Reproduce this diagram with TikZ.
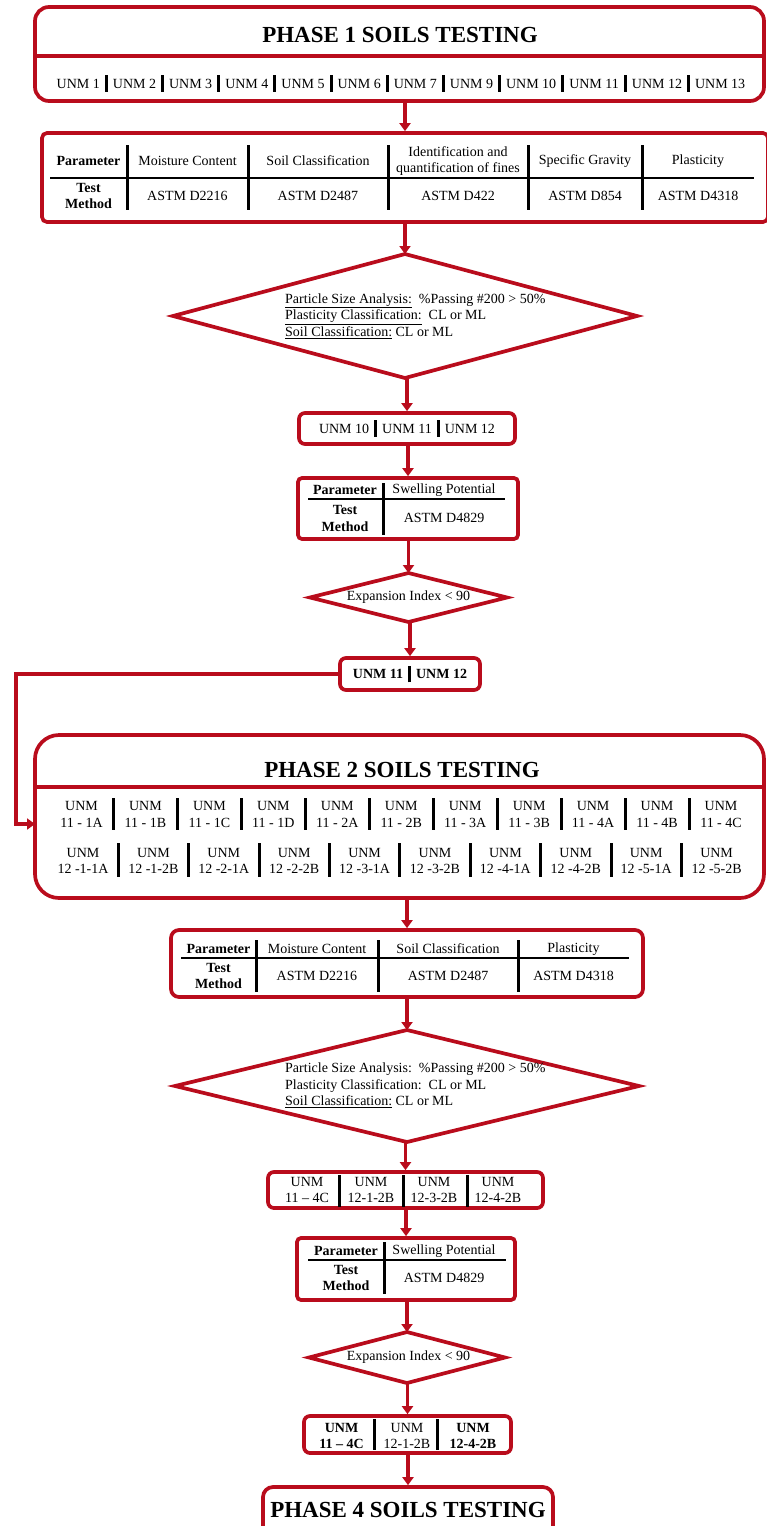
\documentclass[tikz,border=0pt]{standalone}
\usepackage{fontspec}
\setmainfont{Liberation Serif}
\usetikzlibrary{arrows.meta}
\definecolor{dred}{RGB}{185,12,28}
\newcommand\sepbar{\hspace{5pt}\rule[-3.5pt]{3pt}{16.5pt}\hspace{5pt}}
\begin{document}
\begin{tikzpicture}[x=1pt,y=-1pt,
  rbox/.style={draw=dred, line width=3.7pt, rounded corners=#1, inner sep=0pt, fill=white},
  rbox/.default=6pt,
  txt/.style={font=\fontsize{14}{16.5}\selectfont, align=center, inner sep=0pt},
  btxt/.style={font=\fontsize{14}{16.5}\selectfont\bfseries, align=center, inner sep=0pt},
  ttl/.style={font=\fontsize{23}{26}\selectfont\bfseries, inner sep=0pt},
  tline/.style={line width=2.7pt, black},
  vbar/.style={line width=3pt, black},
  dline/.style={draw=dred, line width=3.7pt, line join=miter},
  frame/.style={inner sep=0pt, outer sep=0pt},
  arr/.style={draw=dred, line width=3.8pt, line join=miter, -{Triangle[length=8pt,width=11pt]}}
]
\fill[white] (0,0) rectangle (766,1526);
\useasboundingbox (0,0) rectangle (766,1526);

% ---------- Phase 1 ----------
\node[rbox=14pt, minimum width=729pt, minimum height=94pt] (p1) at (399.5,54) {};
\coordinate (p1div) at (0,56);
\draw[dred, line width=3.7pt] (p1.west |- p1div) -- (p1.east |- p1div);
\node[ttl] (p1t) at (400,35) {PHASE 1 SOILS TESTING};
\node[txt] (p1r) at (401,83.5) {UNM 1\sepbar UNM 2\sepbar UNM 3\sepbar UNM 4\sepbar UNM 5\sepbar UNM 6\sepbar UNM 7\sepbar UNM 9\sepbar UNM 10\sepbar UNM 11\sepbar UNM 12\sepbar UNM 13};

% ---------- Table 1 ----------
\node[rbox=5pt, minimum width=726pt, minimum height=89pt] (t1) at (405,177.5) {};
\draw[tline] (50,178) -- (754,178);
\foreach \x in {127,248,388,528,642} \draw[vbar] (\x,145) -- (\x,210);
\node[btxt] (t1a) at (88.5,161) {Parameter};
\node[txt] (t1b) at (187.5,161) {Moisture Content};
\node[txt] (t1c) at (318,161) {Soil Classification};
\node[txt] (t1d) at (458,161) {Identification and\\quantification of fines};
\node[txt] (t1e) at (585,161) {Specific Gravity};
\node[txt] (t1f) at (698,161) {Plasticity};
\node[btxt] (t1g) at (88.5,196) {Test\\Method};
\node[txt] (t1h) at (187.5,196) {ASTM D2216};
\node[txt] (t1i) at (318,196) {ASTM D2487};
\node[txt] (t1j) at (458,196) {ASTM D422};
\node[txt] (t1k) at (585,196) {ASTM D854};
\node[txt] (t1l) at (698,196) {ASTM D4318};

% ---------- Diamond 1 ----------
\node[frame, minimum width=464pt, minimum height=124pt] (d1) at (405,316) {};
\draw[dline] (d1.north) -- (d1.east) -- (d1.south) -- (d1.west) -- cycle;
\node[txt, align=left, anchor=west] (d1t) at (285,316) {\underline{Particle Size Analysis:}\ \ \%Passing \#200 > 50\%\\\underline{Plasticity Classification:}\ \ CL or ML\\\underline{Soil Classification:} CL or ML};

% ---------- UNM 10/11/12 ----------
\node[rbox, txt, minimum width=216pt, minimum height=31pt] (u1) at (407,428.5) {UNM 10\sepbar UNM 11\sepbar UNM 12};

% ---------- Table 2 ----------
\node[rbox=4pt, minimum width=220pt, minimum height=61pt] (t2) at (408,508.5) {};
\draw[tline] (308,499) -- (505,499);
\draw[vbar] (383,483) -- (383,535);
\node[btxt] (t2a) at (345,490) {Parameter};
\node[txt] (t2b) at (444,490) {Swelling Potential};
\node[btxt] (t2c) at (345,518.5) {Test\\Method};
\node[txt] (t2d) at (444,518) {ASTM D4829};

% ---------- Diamond 3 ----------
\node[frame, minimum width=197pt, minimum height=49pt] (d3) at (408.5,597.5) {};
\draw[dline] (d3.north) -- (d3.east) -- (d3.south) -- (d3.west) -- cycle;
\node[txt] (d3t) at (408.5,597.5) {Expansion Index < 90};

% ---------- UNM 11/12 ----------
\node[rbox, btxt, minimum width=140pt, minimum height=32pt] (u2) at (410,674) {UNM 11\sepbar UNM 12};

% ---------- Phase 2 ----------
\node[rbox=24pt, minimum width=729pt, minimum height=163pt] (p2) at (399.5,816.5) {};
\coordinate (p2div) at (0,787);
\draw[dred, line width=3.7pt] (p2.west |- p2div) -- (p2.east |- p2div);
\node[ttl] (p2t) at (402,770) {PHASE 2 SOILS TESTING};
\foreach \i/\s in {0/1A,1/1B,2/1C,3/1D,4/2A,5/2B,6/3A,7/3B,8/4A,9/4B,10/4C}
  \node[txt] (ra\i) at ({81.5+63.95*\i},814.5) {UNM\\11 - \s};
\foreach \i in {0,...,9} \draw[vbar] ({113.5+63.95*\i},798) -- ++(0,32);
\foreach \i/\s in {0/1-1A,1/1-2B,2/2-1A,3/2-2B,4/3-1A,5/3-2B,6/4-1A,7/4-2B,8/5-1A,9/5-2B}
  \node[txt] (rb\i) at ({83+70.4*\i},861) {UNM\\12 -\s};
\foreach \i in {0,...,8} \draw[vbar] ({118.2+70.4*\i},843) -- ++(0,34);

% ---------- Table 3 ----------
\node[rbox=8pt, minimum width=472pt, minimum height=67pt] (t3) at (407,963.5) {};
\draw[tline] (181,958) -- (629,958);
\foreach \x in {256,378,518} \draw[vbar] (\x,940) -- (\x,992);
\node[btxt] (t3a) at (218.5,949) {Parameter};
\node[txt] (t3b) at (317,949) {Moisture Content};
\node[txt] (t3c) at (448,949) {Soil Classification};
\node[txt] (t3d) at (573.5,949) {Plasticity};
\node[btxt] (t3e) at (218.5,976) {Test\\Method};
\node[txt] (t3f) at (317,976) {ASTM D2216};
\node[txt] (t3g) at (448,976) {ASTM D2487};
\node[txt] (t3h) at (573.5,976) {ASTM D4318};

% ---------- Diamond 2 ----------
\node[frame, minimum width=464pt, minimum height=112pt] (d2) at (407,1086) {};
\draw[dline] (d2.north) -- (d2.east) -- (d2.south) -- (d2.west) -- cycle;
\node[txt, align=left, anchor=west] (d2t) at (285,1085.5) {Particle Size Analysis:\ \ \%Passing \#200 > 50\%\\Plasticity Classification:\ \ CL or ML\\\underline{Soil Classification:} CL or ML};

% ---------- UNM four ----------
\node[rbox, minimum width=275pt, minimum height=36pt] (u3) at (405.5,1190) {};
\foreach \x in {339,403,467} \draw[vbar] (\x,1175) -- (\x,1207);
\node[txt] (u3a) at (307,1190) {UNM\\11 – 4C};
\node[txt] (u3b) at (371,1190) {UNM\\12-1-2B};
\node[txt] (u3c) at (434,1190) {UNM\\12-3-2B};
\node[txt] (u3d) at (498,1190) {UNM\\12-4-2B};

% ---------- Table 4 ----------
\node[rbox=4pt, minimum width=218pt, minimum height=62pt] (t4) at (406,1269) {};
\draw[tline] (308,1260) -- (506,1260);
\draw[vbar] (384,1242) -- (384,1294);
\node[btxt] (t4a) at (346,1251) {Parameter};
\node[txt] (t4b) at (444,1251) {Swelling Potential};
\node[btxt] (t4c) at (346,1278) {Test\\Method};
\node[txt] (t4d) at (444,1278) {ASTM D4829};

% ---------- Diamond 4 ----------
\node[frame, minimum width=196pt, minimum height=51pt] (d4) at (407,1357.5) {};
\draw[dline] (d4.north) -- (d4.east) -- (d4.south) -- (d4.west) -- cycle;
\node[txt] (d4t) at (408.5,1357.5) {Expansion Index < 90};

% ---------- UNM three ----------
\node[rbox, minimum width=207pt, minimum height=37pt] (u4) at (407.5,1434.5) {};
\foreach \x in {374,437} \draw[vbar] (\x,1419) -- (\x,1450);
\node[btxt] (u4a) at (341.5,1436) {UNM\\11 – 4C};
\node[txt] (u4b) at (407,1436) {UNM\\12-1-2B};
\node[btxt] (u4c) at (473,1436) {UNM\\12-4-2B};

% ---------- Phase 4 ----------
\node[rbox=10pt, minimum width=290pt, minimum height=60pt] (p4) at (408,1517) {};
\node[ttl] (p4t) at (408,1510) {PHASE 4 SOILS TESTING};

% ---------- Connectors ----------
\draw[arr] (p1.south -| t1.north) -- (t1.north);
\draw[arr] (t1.south -| d1.north) -- (d1.north);
\draw[arr] (d1.south -| u1.north) -- (u1.north);
\draw[arr] (u1.south -| t2.north) -- (t2.north);
\draw[arr] (t2.south -| d3.north) -- (d3.north);
\draw[arr] (d3.south -| u2.north) -- (u2.north);
\coordinate (lx) at (16,0);
\coordinate (p2in) at (35,824);
\draw[arr] (u2.west) -- (u2.west -| lx) |- (p2in);
\draw[arr] (p2.south -| t3.north) -- (t3.north);
\draw[arr] (t3.south -| d2.north) -- (d2.north);
\draw[arr] (d2.south -| u3.north) -- (u3.north);
\draw[arr] (u3.south -| t4.north) -- (t4.north);
\draw[arr] (t4.south -| d4.north) -- (d4.north);
\draw[arr] (d4.south -| u4.north) -- (u4.north);
\draw[arr] (u4.south -| p4.north) -- (p4.north);
\end{tikzpicture}
\end{document}
